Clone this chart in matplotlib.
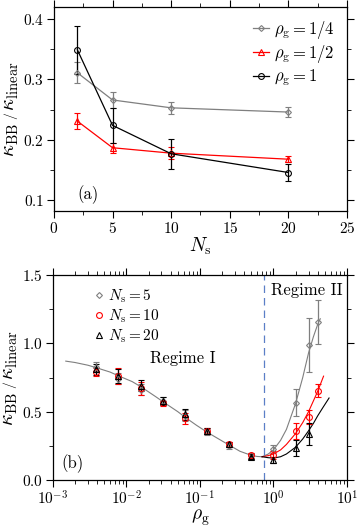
import matplotlib
matplotlib.use("Agg")
import matplotlib.pyplot as plt
from matplotlib.ticker import MultipleLocator, LogLocator, NullFormatter

plt.rcParams["font.family"] = "serif"
plt.rcParams["font.serif"] = ["cmr10", "DejaVu Serif"]
plt.rcParams["mathtext.fontset"] = "cm"
plt.rcParams["axes.unicode_minus"] = False
plt.rcParams["axes.formatter.use_mathtext"] = True

# ---- panel (a): kappa ratio vs N_s ----
ns = [2, 5, 10, 20]
a_quarter = [0.311, 0.266, 0.253, 0.246]
a_quarter_err = [0.017, 0.014, 0.010, 0.008]
a_half = [0.231, 0.187, 0.178, 0.168]
a_half_err = [0.013, 0.008, 0.010, 0.005]
a_one = [0.349, 0.224, 0.177, 0.146]
a_one_err = [0.040, 0.029, 0.025, 0.014]

# ---- panel (b): kappa ratio vs rho_g ----
rho = [1/256, 1/128, 1/64, 1/32, 1/16, 1/8, 1/4, 1/2, 1, 2, 3, 4]
b_ns5 = [0.83, 0.74, 0.66, 0.58, 0.47, 0.35, 0.25, 0.18, 0.227, 0.566, 0.988, 1.159]
b_ns5_err = [0.03, 0.04, 0.04, 0.03, 0.04, 0.02, 0.02, 0.02, 0.03, 0.10, 0.20, 0.16]
b_ns10 = [0.79, 0.76, 0.67, 0.56, 0.45, 0.36, 0.26, 0.18, 0.183, 0.359, 0.463, 0.654]
b_ns10_err = [0.03, 0.06, 0.05, 0.02, 0.04, 0.02, 0.02, 0.02, 0.03, 0.06, 0.05, 0.045]
rho20 = [1/256, 1/128, 1/64, 1/32, 1/16, 1/8, 1/4, 1/2, 1, 2, 3]
b_ns20 = [0.81, 0.76, 0.69, 0.58, 0.48, 0.36, 0.26, 0.17, 0.146, 0.232, 0.337]
b_ns20_err = [0.04, 0.05, 0.04, 0.03, 0.04, 0.02, 0.02, 0.02, 0.02, 0.057, 0.08]

# fitted curves
fit_x = [0.0015, 0.002, 0.003, 0.004, 0.006, 0.008, 0.012, 0.016, 0.025, 0.032,
         0.05, 0.0625, 0.09, 0.125, 0.18, 0.25, 0.35, 0.5, 0.6, 0.7]
fit_y = [0.87, 0.86, 0.84, 0.82, 0.79, 0.76, 0.72, 0.68, 0.61, 0.57,
         0.50, 0.46, 0.40, 0.35, 0.30, 0.255, 0.21, 0.18, 0.172, 0.17]
fit5_x = [0.7, 0.85, 1.0, 1.25, 1.5, 2.0, 2.5, 3.0, 3.5, 4.0, 4.33]
fit5_y = [0.17, 0.19, 0.22, 0.29, 0.37, 0.56, 0.75, 0.93, 1.05, 1.14, 1.18]
fit10_x = [0.7, 0.85, 1.0, 1.25, 1.5, 2.0, 2.5, 3.0, 3.5, 4.0, 4.8]
fit10_y = [0.17, 0.178, 0.19, 0.22, 0.26, 0.34, 0.42, 0.50, 0.58, 0.65, 0.76]
fit20_x = [0.7, 0.85, 1.0, 1.25, 1.5, 2.0, 2.5, 3.0, 3.5, 4.0, 4.7, 5.7]
fit20_y = [0.17, 0.163, 0.16, 0.17, 0.19, 0.24, 0.30, 0.36, 0.415, 0.47, 0.53, 0.60]

regime_boundary = 0.75

GRAY = "#7f7f7f"
RED = "#ff0000"
BLACK = "#000000"
YLABEL = r"$\kappa_\mathrm{BB}\,\left/\,\kappa_\mathrm{linear}\right.$"

fig = plt.figure(figsize=(3.57, 5.28), dpi=100)
ax1 = fig.add_axes([0.151, 0.600, 0.821, 0.387])
ax2 = fig.add_axes([0.148, 0.091, 0.824, 0.388])

ekw = dict(capsize=2.2, elinewidth=0.9, capthick=0.9, markerfacecolor="none",
           markeredgewidth=0.8)
mkw = dict(markerfacecolor="none", markeredgewidth=0.8)

# panel (a)
for ys, es, c, m, ms, lab in [
    (a_quarter, a_quarter_err, GRAY, "D", 3, r"$\rho_\mathrm{g} = 1/4$"),
    (a_half, a_half_err, RED, "^", 4, r"$\rho_\mathrm{g} = 1/2$"),
    (a_one, a_one_err, BLACK, "o", 4.2, r"$\rho_\mathrm{g} = 1$"),
]:
    ax1.errorbar(ns, ys, yerr=es, color=c, marker=m, ms=ms, lw=0.9, **ekw)
    ax1.plot([], [], color=c, marker=m, ms=ms, lw=0.9, label=lab, **mkw)

ax1.set_xlim(0, 25)
ax1.set_ylim(0.082, 0.42)
ax1.xaxis.set_major_locator(MultipleLocator(5))
ax1.xaxis.set_minor_locator(MultipleLocator(2.5))
ax1.yaxis.set_major_locator(MultipleLocator(0.1))
ax1.yaxis.set_minor_locator(MultipleLocator(0.05))
ax1.set_xlabel(r"$N_\mathrm{s}$", fontsize=14, labelpad=0)
ax1.set_ylabel(YLABEL, fontsize=15, labelpad=2)
ax1.text(0.08, 0.06, "(a)", transform=ax1.transAxes, fontsize=12)
ax1.legend(loc="upper right", frameon=False, fontsize=12, handlelength=1.0,
           handletextpad=0.3, labelspacing=0.15, borderaxespad=0.3)

# panel (b)
ax2.plot(fit_x, fit_y, color=GRAY, lw=0.8)
ax2.plot(fit5_x, fit5_y, color=GRAY, lw=0.8)
ax2.plot(fit10_x, fit10_y, color=RED, lw=0.8)
ax2.plot(fit20_x, fit20_y, color=BLACK, lw=0.8)

for xs, ys, es, c, m, ms, lab in [
    (rho, b_ns5, b_ns5_err, GRAY, "D", 3, r"$N_\mathrm{s} = 5$"),
    (rho, b_ns10, b_ns10_err, RED, "o", 4.2, r"$N_\mathrm{s} = 10$"),
    (rho20, b_ns20, b_ns20_err, BLACK, "^", 4, r"$N_\mathrm{s} = 20$"),
]:
    ax2.errorbar(xs, ys, yerr=es, color=c, marker=m, ms=ms, ls="none", **ekw)
    ax2.plot([], [], color=c, marker=m, ms=ms, ls="none", label=lab, **mkw)

ax2.axvline(regime_boundary, color="#5b7fc7", ls=(0, (6, 4)), lw=0.9)

ax2.set_xscale("log")
ax2.set_xlim(1e-3, 1e1)
ax2.set_ylim(0, 1.5)
ax2.xaxis.set_major_locator(LogLocator(base=10, numticks=10))
ax2.xaxis.set_minor_locator(LogLocator(base=10, subs=range(2, 10), numticks=10))
ax2.xaxis.set_minor_formatter(NullFormatter())
ax2.yaxis.set_major_locator(MultipleLocator(0.5))
ax2.yaxis.set_minor_locator(MultipleLocator(0.25))
ax2.set_xlabel(r"$\rho_\mathrm{g}$", fontsize=14, labelpad=0)
ax2.set_ylabel(YLABEL, fontsize=15, labelpad=2)
ax2.text(0.058, 0.89, "Regime I", fontsize=12, ha="center", va="center")
ax2.text(0.985, 0.965, "Regime II", transform=ax2.transAxes, fontsize=12,
         ha="right", va="top", bbox=dict(facecolor="white", edgecolor="none", pad=0.5))
ax2.text(0.03, 0.06, "(b)", transform=ax2.transAxes, fontsize=12)
ax2.legend(loc="upper left", frameon=False, fontsize=11, handlelength=0.6,
           handletextpad=0.3, labelspacing=0.15, borderaxespad=0.4,
           bbox_to_anchor=(0.1, 1.0))

for ax in (ax1, ax2):
    ax.tick_params(which="both", direction="out", top=True, right=True, labelsize=11, pad=2)
    ax.tick_params(which="major", length=5, width=0.8)
    ax.tick_params(which="minor", length=3, width=0.6)
    for sp in ax.spines.values():
        sp.set_linewidth(0.9)

fig.savefig("out.png", dpi=100)
